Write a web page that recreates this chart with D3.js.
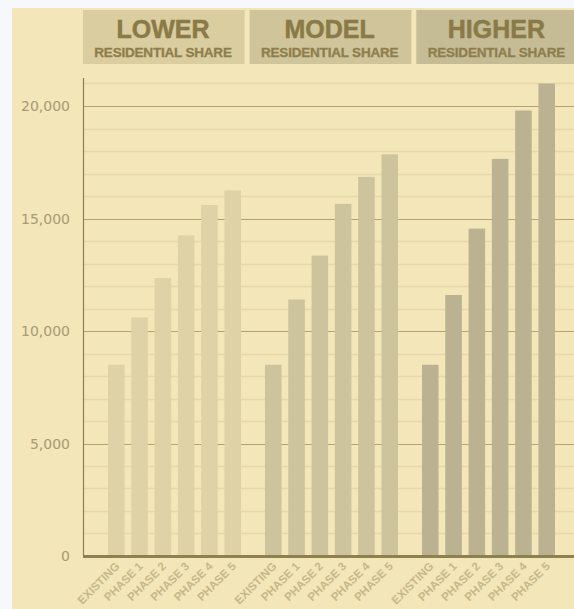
<!DOCTYPE html>
<html><head><meta charset="utf-8">
<script src="https://cdn.jsdelivr.net/npm/d3@7"></script>
<style>
html,body{margin:0;padding:0;background:#F7F8FC;}
svg{display:block;}
</style></head>
<body>
<svg id="chart" width="574" height="609"></svg>
<script>
const groups = ["LOWER", "MODEL", "HIGHER"];
const groupSub = ["RESIDENTIAL SHARE", "RESIDENTIAL SHARE", "RESIDENTIAL SHARE"];
const phases = ["EXISTING", "PHASE 1", "PHASE 2", "PHASE 3", "PHASE 4", "PHASE 5"];
const lowerValues  = [8500, 10600, 12350, 14250, 15600, 16250];
const modelValues  = [8500, 11400, 13350, 15650, 16850, 17850];
const higherValues = [8500, 11600, 14550, 17650, 19800, 21000];
const yTicks = [0, 5000, 10000, 15000, 20000];
const barColors = ["#DFD2A6", "#CDC39C", "#BAB290"];
const boxColors = ["#DACD9F", "#D0C49B", "#C5BC96"];

const seriesValues = [lowerValues, modelValues, higherValues];

const svg = d3.select("#chart");
const W = 574, H = 609;

svg.append("rect").attr("x", 12).attr("y", 8).attr("width", W - 12).attr("height", H - 8).attr("fill", "#F3E6B8");

const y = d3.scaleLinear().domain([0, 20000]).range([556, 106]);
const xAxisLeft = 83;

// minor gridlines
const minor = d3.range(1000, 21001, 1000).filter(v => v % 5000 !== 0);
svg.append("g").selectAll("line").data(minor).join("line")
  .attr("x1", xAxisLeft).attr("x2", W)
  .attr("y1", d => Math.round(y(d)) + 0.5).attr("y2", d => Math.round(y(d)) + 0.5)
  .attr("stroke", "#E8D8A8").attr("stroke-width", 1.5);

// major gridlines
svg.append("g").selectAll("line").data(yTicks.filter(d => d > 0)).join("line")
  .attr("x1", xAxisLeft).attr("x2", W)
  .attr("y1", d => Math.round(y(d)) + 0.5).attr("y2", d => Math.round(y(d)) + 0.5)
  .attr("stroke", "#B3A36F").attr("stroke-width", 1.2);

// y tick labels
svg.append("g").selectAll("text").data(yTicks).join("text")
  .attr("x", 70).attr("y", d => y(d) + 5)
  .attr("text-anchor", "end")
  .attr("font-family", "DejaVu Sans, Verdana, sans-serif")
  .attr("font-size", 14)
  .attr("fill", "#A69A74")
  .text(d => d3.format(",")(d));

// y axis line
svg.append("line").attr("x1", xAxisLeft + 0.5).attr("x2", xAxisLeft + 0.5)
  .attr("y1", 78).attr("y2", 556).attr("stroke", "#8F8052").attr("stroke-width", 1.2);

// scales for bars
const xg = d3.scaleBand().domain(groups).range([96, 567]).paddingInner(0).paddingOuter(0);
const xp = d3.scaleBand().domain(phases).range([0, xg.bandwidth()]).paddingInner(0.29).paddingOuter(0.515);

groups.forEach((g, gi) => {
  const gEl = svg.append("g").attr("transform", `translate(${xg(g)},0)`);
  gEl.selectAll("rect").data(phases.map((p, i) => ({p, v: seriesValues[gi][i]}))).join("rect")
    .attr("x", d => xp(d.p)).attr("width", xp.bandwidth())
    .attr("y", d => y(d.v)).attr("height", d => y(0) - y(d.v))
    .attr("fill", barColors[gi]);
  gEl.selectAll("text").data(phases).join("text")
    .attr("transform", d => `translate(${xp(d) + xp.bandwidth() / 2 + 4},567) rotate(-45)`)
    .attr("text-anchor", "end")
    .attr("font-family", "Liberation Sans, Arial, sans-serif")
    .attr("font-weight", "bold")
    .attr("font-size", 11.5)
    .attr("fill", "#C7B888")
    .text(d => d);
});

// baseline
svg.append("line").attr("x1", xAxisLeft).attr("x2", W)
  .attr("y1", 556.5).attr("y2", 556.5).attr("stroke", "#8F8050").attr("stroke-width", 3);

// header boxes
const xh = d3.scaleBand().domain(groups).range([83, 578]).paddingInner(0.03).paddingOuter(0);
const hg = svg.append("g").selectAll("g").data(groups).join("g")
  .attr("transform", d => `translate(${xh(d)},10)`);
hg.append("rect").attr("width", xh.bandwidth()).attr("height", 54)
  .attr("fill", (d, i) => boxColors[i]);
hg.append("text").attr("x", 80).attr("y", 28)
  .attr("text-anchor", "middle")
  .attr("font-family", "Liberation Sans, Arial, sans-serif")
  .attr("font-weight", "bold").attr("font-size", 25)
  .attr("fill", "#8A7A47").attr("stroke", "#8A7A47").attr("stroke-width", 0.5)
  .text(d => d);
hg.append("text").attr("x", 80).attr("y", 47)
  .attr("text-anchor", "middle")
  .attr("font-family", "Liberation Sans, Arial, sans-serif")
  .attr("font-weight", "bold").attr("font-size", 13.5)
  .attr("letter-spacing", -0.2)
  .attr("fill", "#8E7E4D").attr("stroke", "#8E7E4D").attr("stroke-width", 0.3)
  .text((d, i) => groupSub[i]);
</script>
</body></html>
